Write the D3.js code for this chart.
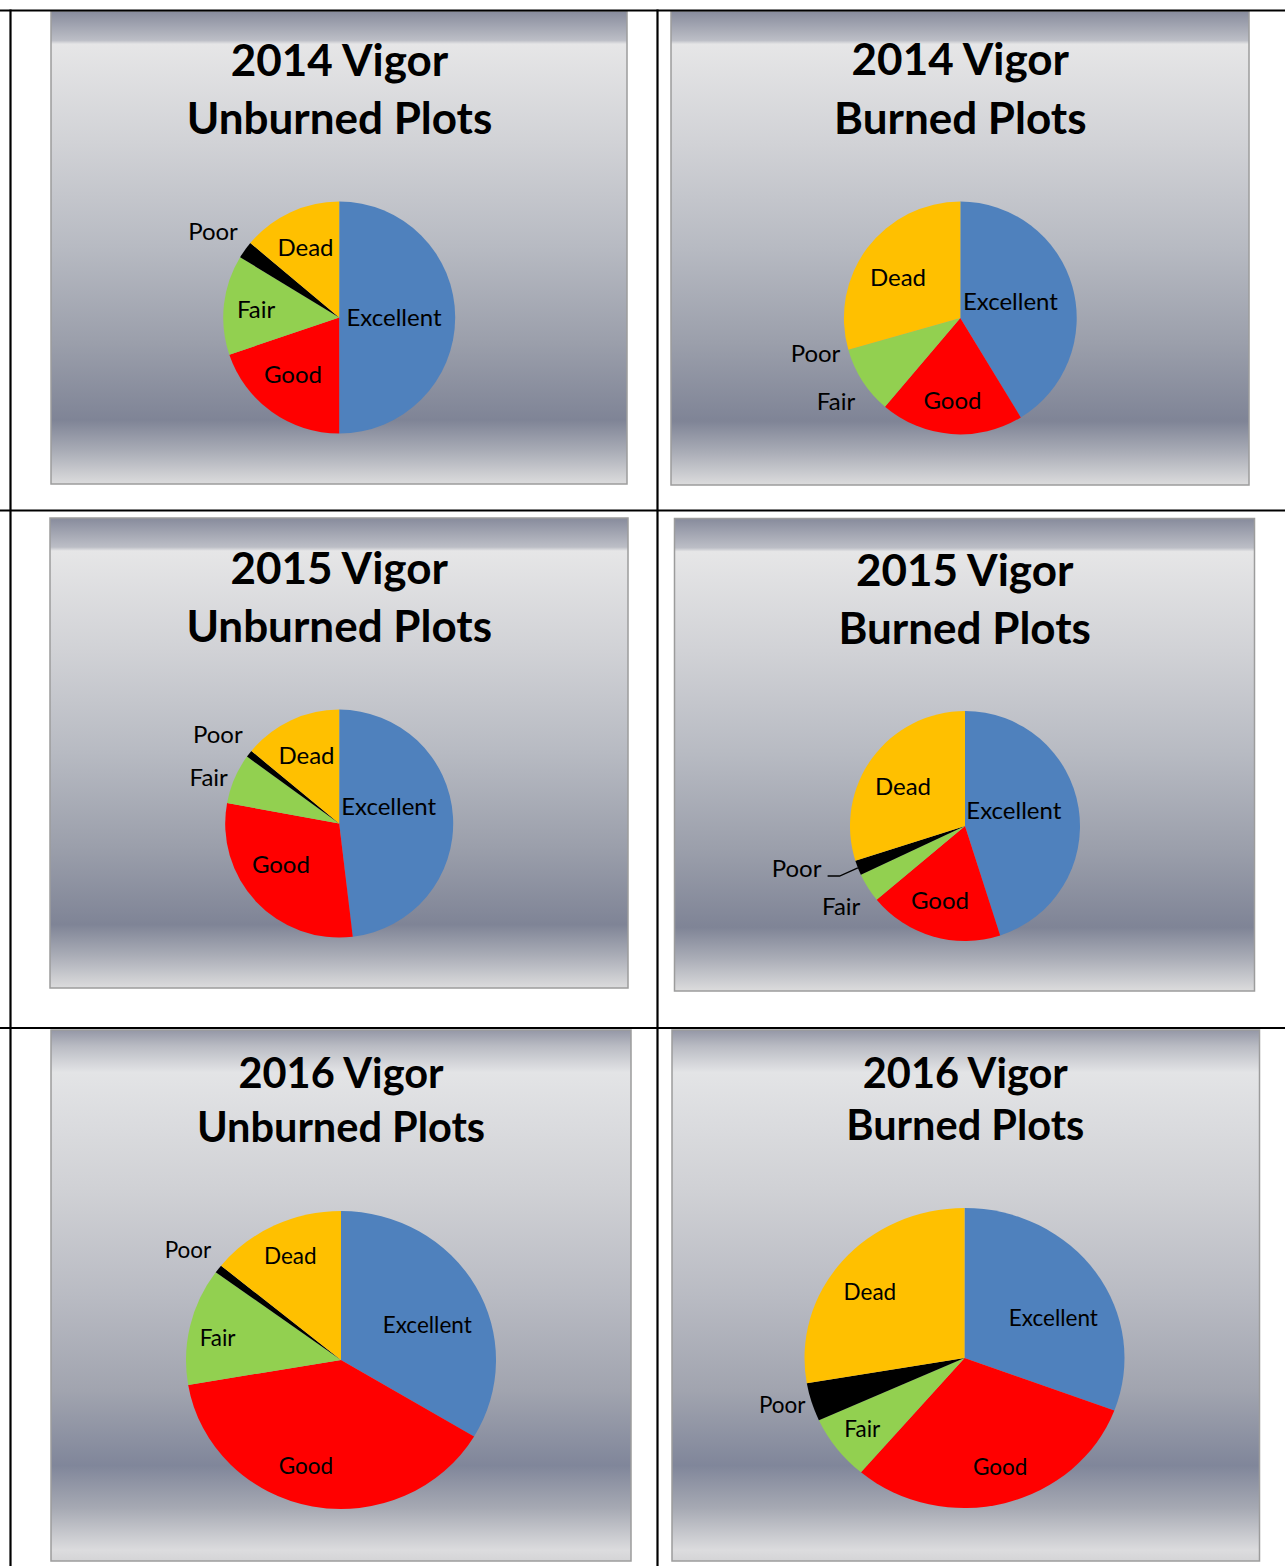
<!DOCTYPE html>
<html>
<head>
<meta charset="utf-8">
<script src="https://cdn.jsdelivr.net/npm/d3@7"></script>
<style>
  body { margin: 0; background: #fff; }
  svg { display: block; }
  text { font-family: Lato, "Open Sans", sans-serif; fill: #000; }
</style>
</head>
<body>
<svg id="chart" width="1285" height="1566"></svg>
<script>
// vigor classes, clockwise from 12 o'clock
var categories = ['Excellent', 'Good', 'Fair', 'Poor', 'Dead'];
var colors = ['#4f81bd', '#ff0000', '#92d050', '#000000', '#ffc000'];

// percent of plots in each class
var unburned2014 = [50.0, 19.8, 13.9, 2.4, 13.9];
var burned2014 = [41.3, 19.9, 9.4, 0.0, 29.4];
var unburned2015 = [48.1, 29.8, 7.1, 1.0, 14.0];
var burned2015 = [45.1, 18.9, 4.1, 2.1, 29.9];
var unburned2016 = [33.6, 38.8, 12.7, 0.9, 14.1];
var burned2016 = [30.7, 30.5, 7.0, 4.1, 27.7];

var titles = [
  ['2014 Vigor', 'Unburned Plots'],
  ['2014 Vigor', 'Burned Plots'],
  ['2015 Vigor', 'Unburned Plots'],
  ['2015 Vigor', 'Burned Plots'],
  ['2016 Vigor', 'Unburned Plots'],
  ['2016 Vigor', 'Burned Plots']
];

// layout for each panel: box, pie centre/radii, title baselines, label offsets
var layout = [
  {box: [51, 11, 576, 473], pie: [339.2, 317.5, 116, 116], titleX: 339.5, titleY: [76, 134],
   titleSize: 44, labelSize: 24, grad: 'silver',
   labels: [[54.8, 8.5], [-46.2, 65.5], [-83.1, 0.8], [-126.2, -77.5], [-33.7, -61.5]]},
  {box: [671, 11, 578, 474], pie: [960.3, 318, 116.4, 116.4], titleX: 960.3, titleY: [75, 134],
   titleSize: 44, labelSize: 24, grad: 'silver',
   labels: [[50.1, -8], [-7.8, 91.3], [-124.3, 92], [-144.8, 44.3], [-62.3, -32.3]]},
  {box: [50, 518, 578, 470], pie: [339.2, 823.6, 114, 114], titleX: 339.2, titleY: [584.4, 641.9],
   titleSize: 44, labelSize: 24, grad: 'silver',
   labels: [[49.5, -8.3], [-58.3, 49.2], [-130.5, -38], [-121.4, -80.3], [-32.7, -60]]},
  {box: [674.5, 518.5, 580, 472.5], pie: [965, 826, 115, 115], titleX: 964.7, titleY: [585.5, 643.6],
   titleSize: 44, labelSize: 24, grad: 'silver', leader: true,
   labels: [[48.8, -7], [-25, 83], [-123.8, 88.7], [-168.4, 51], [-62, -31]]},
  {box: [51, 1030, 580, 531], pie: [341, 1360, 155, 149], titleX: 341, titleY: [1088, 1142],
   titleSize: 41.5, labelSize: 22.5, grad: 'silver2',
   labels: [[86.2, -26.6], [-35, 113.7], [-123.4, -14.4], [-153, -102.2], [-50.7, -95.6]]},
  {box: [672, 1030, 587.5, 531], pie: [964.5, 1358, 160, 150], titleX: 965.3, titleY: [1088, 1140],
   titleSize: 41.5, labelSize: 22.5, grad: 'silver2',
   labels: [[88.9, -32.3], [35.6, 117.4], [-102.2, 78.8], [-182.3, 54.8], [-94.6, -58]]}
];

var series = [unburned2014, burned2014, unburned2015, burned2015, unburned2016, burned2016];

var svg = d3.select('#chart');
var defs = svg.append('defs');

addGradient('silver', [
  [0, '#878b9c'], [0.062, '#bcbec6'], [0.07, '#e6e6e7'], [0.28, '#d1d2d6'],
  [0.5, '#b7bac2'], [0.7, '#9b9fab'], [0.865, '#7f8496'], [0.93, '#a9acb6'], [1, '#dcdcdd']
]);
addGradient('silver2', [
  [0, '#9497a6'], [0.03, '#b9bbc3'], [0.08, '#e3e4e6'], [0.3, '#d0d1d5'],
  [0.5, '#b9bbc3'], [0.68, '#a1a4af'], [0.82, '#80869a'], [0.9, '#a6a9b3'], [0.98, '#dcdcde'], [1, '#d4d4d6']
]);

function addGradient(id, stops) {
  var g = defs.append('linearGradient').attr('id', id)
    .attr('x1', 0).attr('y1', 0).attr('x2', 0).attr('y2', 1);
  g.selectAll('stop').data(stops).enter().append('stop')
    .attr('offset', function(d) { return d[0]; })
    .attr('stop-color', function(d) { return d[1]; });
}

var pie = d3.pie().sort(null).value(function(d) { return d; });

layout.forEach(function(l, i) {
  drawPanel(l, titles[i], series[i]);
});

drawTableLines();

function drawPanel(l, title, values) {
  var g = svg.append('g');

  g.append('rect')
    .attr('x', l.box[0]).attr('y', l.box[1])
    .attr('width', l.box[2]).attr('height', l.box[3])
    .attr('fill', 'url(#' + l.grad + ')')
    .attr('stroke', '#9c9c9c').attr('stroke-width', 1.5);

  g.selectAll('.title').data(title).enter().append('text')
    .attr('class', 'title')
    .attr('x', l.titleX)
    .attr('y', function(d, j) { return l.titleY[j]; })
    .attr('text-anchor', 'middle')
    .style('font-weight', 700)
    .style('font-size', l.titleSize + 'px')
    .text(function(d) { return d; });

  var cx = l.pie[0], cy = l.pie[1], rx = l.pie[2], ry = l.pie[3];
  var arc = d3.arc().innerRadius(0).outerRadius(ry);
  var arcs = pie(values);

  g.append('g')
    .attr('transform', 'translate(' + cx + ',' + cy + ') scale(' + (rx / ry) + ',1)')
    .selectAll('path').data(arcs).enter().append('path')
    .attr('d', arc)
    .attr('fill', function(d, j) { return colors[j]; });

  g.selectAll('.label').data(categories).enter().append('text')
    .attr('class', 'label')
    .attr('x', function(d, j) { return cx + l.labels[j][0]; })
    .attr('y', function(d, j) { return cy + l.labels[j][1]; })
    .attr('text-anchor', 'middle')
    .style('font-size', l.labelSize + 'px')
    .text(function(d) { return d; });

  if (l.leader) {
    // leader from the Poor label to the rim of its slice
    var p = arcs[3];
    var a = (p.startAngle + p.endAngle) / 2;
    var lx = l.labels[3][0], ly = l.labels[3][1];
    var pts = [
      [cx + lx + 31, cy + ly - 1],
      [cx + lx + 43, cy + ly - 1],
      [cx + rx * Math.sin(a), cy - ry * Math.cos(a)]
    ];
    g.append('path')
      .attr('d', d3.line()(pts))
      .attr('fill', 'none')
      .attr('stroke', '#000')
      .attr('stroke-width', 1.3);
  }
}

function drawTableLines() {
  var lines = [
    [0, 10.5, 1285, 10.5], [0, 510.5, 1285, 510.5], [0, 1028, 1285, 1028],
    [10.5, 9.5, 10.5, 1566], [657.5, 9.5, 657.5, 1566]
  ];
  svg.append('g').selectAll('line').data(lines).enter().append('line')
    .attr('x1', function(d) { return d[0]; })
    .attr('y1', function(d) { return d[1]; })
    .attr('x2', function(d) { return d[2]; })
    .attr('y2', function(d) { return d[3]; })
    .attr('stroke', '#000')
    .attr('stroke-width', 2.2);
}
</script>
</body>
</html>
